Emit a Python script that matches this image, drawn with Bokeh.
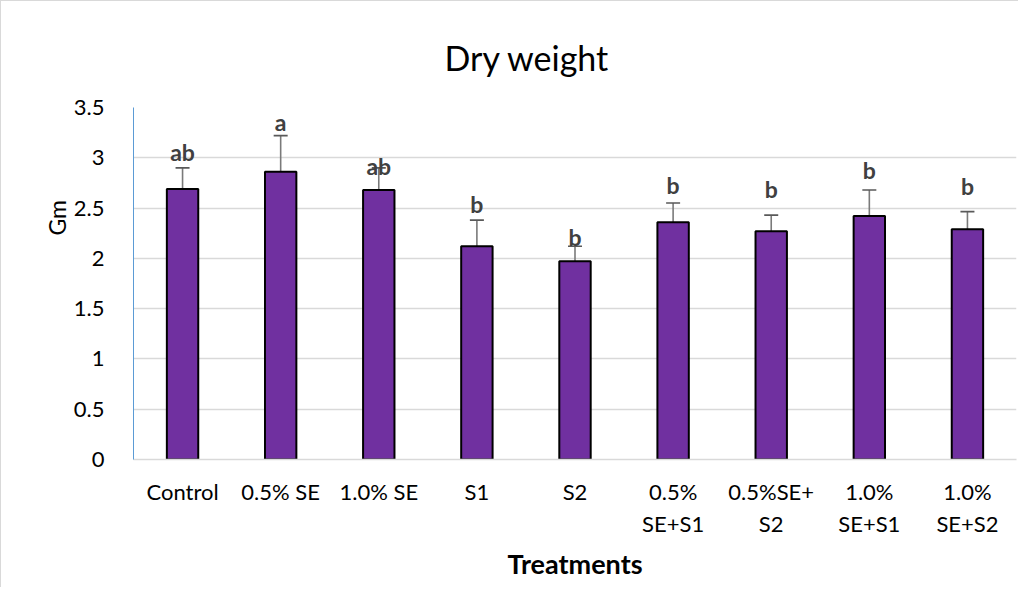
from bokeh.plotting import figure
from bokeh.models import ColumnDataSource, FactorRange, Range1d, Whisker, TeeHead, FixedTicker, CustomJSTickFormatter, Title
from bokeh.core.properties import value
from bokeh.embed import file_html
from bokeh.resources import INLINE

treatments = ["Control", "0.5% SE", "1.0% SE", "S1", "S2",
              "0.5%\nSE+S1", "0.5%SE+\nS2", "1.0%\nSE+S1", "1.0%\nSE+S2"]
dry_weight = [2.69, 2.86, 2.68, 2.12, 1.97, 2.36, 2.27, 2.42, 2.29]
std_error = [0.21, 0.36, 0.22, 0.26, 0.15, 0.19, 0.16, 0.26, 0.175]
letters = ["ab", "a", "ab", "b", "b", "b", "b", "b", "b"]
letter_y = [3.03, 3.33, 2.89, 2.515, 2.18, 2.70, 2.66, 2.85, 2.69]
y_ticks = [0, 0.5, 1, 1.5, 2, 2.5, 3, 3.5]

FONT = "Lato"

src = ColumnDataSource(dict(
    x=treatments, top=dry_weight,
    upper=[v + e for v, e in zip(dry_weight, std_error)],
    lower=[v - e for v, e in zip(dry_weight, std_error)],
    letters=letters, ly=letter_y,
))

p = figure(x_range=FactorRange(*treatments, range_padding=0),
           y_range=Range1d(0, 3.5),
           width=1018, height=587, output_backend="svg", toolbar_location=None,
           min_border_left=132, min_border_top=106, min_border_right=3, min_border_bottom=129)
p.styles = {"border-left": "1px solid #d9d9d9", "border-top": "1px solid #d9d9d9"}
p.outline_line_color = None

p.vbar(x="x", top="top", width=0.32, source=src, fill_color="#7030A0",
       line_color="black", line_width=2)

wh = Whisker(base="x", upper="upper", lower="lower", source=src,
             line_color="#7a7a7a", line_width=1.6,
             upper_head=TeeHead(size=14, line_color="#595959", line_width=1.6),
             lower_head=TeeHead(size=14, line_color="#595959", line_width=1.6))
p.add_layout(wh)

p.text(x="x", y="ly", text="letters", source=src, text_align="center",
       text_baseline="middle", y_offset=-3, text_color="#404040", text_font_style="bold",
       text_font_size="23px", text_font=value(FONT))

p.xgrid.grid_line_color = None
p.ygrid.grid_line_color = "#d9d9d9"
p.ygrid.grid_line_width = 1.5
p.yaxis.ticker = FixedTicker(ticks=y_ticks)
p.yaxis.formatter = CustomJSTickFormatter(code="return tick.toString();")
p.yaxis.axis_line_color = "#5B9BD5"
p.yaxis.axis_line_width = 1
p.xaxis.axis_line_color = "#d9d9d9"
p.xaxis.axis_line_width = 1.5
for ax in (p.xaxis, p.yaxis):
    ax.major_tick_line_color = None
    ax.minor_tick_line_color = None
    ax.major_label_text_font = FONT
    ax.major_label_text_font_size = "22px"
    ax.major_label_text_color = "#000000"
p.yaxis.major_label_standoff = 23
p.xaxis.major_label_standoff = 12
p.xaxis.major_label_text_line_height = 1.2

p.add_layout(Title(text="Dry weight", align="left", offset=311, standoff=60,
                   text_font=FONT, text_font_size="34px", text_font_style="normal",
                   text_color="#000000"), "above")
p.add_layout(Title(text="Gm", align="left", offset=224, standoff=0,
                   text_font=FONT, text_font_size="23px", text_font_style="normal",
                   text_color="#000000"), "left")
p.add_layout(Title(text="Treatments", align="center", standoff=10,
                   text_font=FONT, text_font_size="27px", text_font_style="bold",
                   text_color="#000000"), "below")

open("out.html", "w").write(file_html(p, INLINE))
